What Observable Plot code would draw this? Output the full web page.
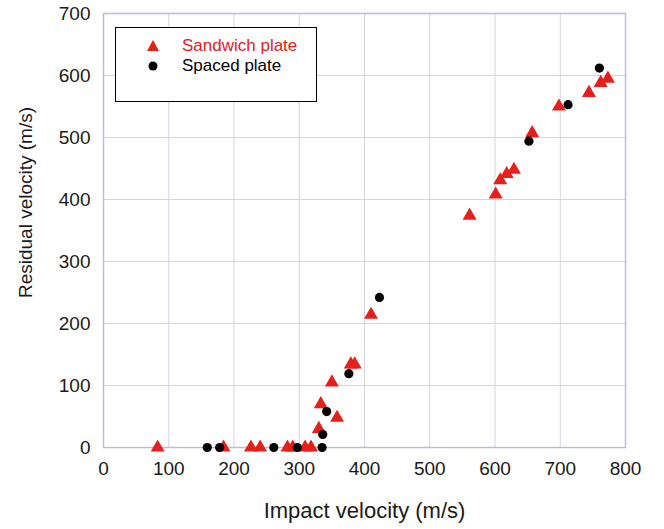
<!DOCTYPE html>
<html>
<head>
<meta charset="utf-8">
<script src="https://cdn.jsdelivr.net/npm/d3@7"></script>
<script src="https://cdn.jsdelivr.net/npm/@observablehq/plot@0.6"></script>
<style>
  html, body { margin: 0; padding: 0; background: #fff; }
  #wrap { position: relative; width: 664px; height: 529px; font-family: "Liberation Sans", Arial, sans-serif; }
  #legend { position: absolute; left: 115px; top: 27px; width: 202px; height: 75px; border: 1.5px solid #000; background: #fff; box-sizing: border-box; }
  .li { position: absolute; left: 0; font-size: 17px; line-height: 20px; white-space: nowrap; }
  .li svg { position: absolute; left: 30px; top: 3px; }
  .li span { position: absolute; left: 66px; top: 0; }
</style>
</head>
<body>
<div id="wrap"></div>
<script>
// Sandwich plate (red triangles)
const sandwichImpact   = [83, 184, 226, 240, 282, 290, 309, 318, 330, 333, 350, 358, 379, 385, 410, 561, 601, 608, 618, 629, 657, 698, 744, 762, 773];
const sandwichResidual = [0, 0, 0, 0, 0, 0, 0, 0, 30, 70, 105, 48, 134, 134, 214, 374, 408, 431, 441, 448, 507, 550, 572, 588, 595];
// Spaced plate (black circles)
const spacedImpact   = [159, 178, 261, 297, 335, 336, 342, 376, 423, 652, 712, 760];
const spacedResidual = [0, 0, 0, 0, 0, 21, 58, 119, 242, 494, 553, 612];

const xTicks = [0, 100, 200, 300, 400, 500, 600, 700, 800];
const yTicks = [0, 100, 200, 300, 400, 500, 600, 700];
const seriesNames = ["Sandwich plate", "Spaced plate"];

const sandwich = sandwichImpact.map((v, i) => ({v, r: sandwichResidual[i]}));
const spaced = spacedImpact.map((v, i) => ({v, r: spacedResidual[i]}));

const gridColor = "#d4d4e4";
const red = "#e3201b";

const chart = Plot.plot({
  width: 664,
  height: 529,
  marginTop: 13,
  marginBottom: 82,
  marginLeft: 103,
  marginRight: 39,
  style: {fontFamily: "Liberation Sans, Arial, sans-serif", background: "transparent"},
  x: {domain: [0, 800]},
  y: {domain: [0, 700]},
  marks: [
    Plot.gridX(xTicks, {stroke: gridColor, strokeOpacity: 1, strokeWidth: 1}),
    Plot.gridY(yTicks, {stroke: gridColor, strokeOpacity: 1, strokeWidth: 1}),
    Plot.frame({stroke: "#bcbcd4", strokeWidth: 1.5}),
    Plot.axisX(xTicks, {tickSize: 0, tickPadding: 14, fontSize: 19, fill: "#1a1a1a",
      label: "Impact velocity (m/s)", labelAnchor: "center", labelArrow: "none", labelOffset: 70}),
    Plot.axisY(yTicks, {tickSize: 0, tickPadding: 13, fontSize: 19, fill: "#1a1a1a",
      label: "Residual velocity (m/s)", labelAnchor: "center", labelArrow: "none", labelOffset: 85}),
    Plot.dot(sandwich, {x: "v", y: "r", symbol: "triangle", r: 5.2, fill: red, stroke: "none"}),
    Plot.dot(spaced, {x: "v", y: "r", symbol: "circle", r: 4.6, fill: "#000", stroke: "none"})
  ]
});
chart.querySelectorAll('g[aria-label="x-axis label"] text').forEach(t => { t.style.fontSize = "22px"; t.setAttribute("fill", "#1a1a1a"); });
chart.querySelectorAll('g[aria-label="y-axis label"] text').forEach(t => {
  t.style.fontSize = "19px"; t.setAttribute("fill", "#1a1a1a");
  const g = t.parentNode;
  const prev = g.getAttribute("transform") || "";
  g.setAttribute("transform", prev + " translate(0,-28)");
});
const wrap = document.getElementById("wrap");
wrap.appendChild(chart);

const legend = document.createElement("div");
legend.id = "legend";
legend.innerHTML = `
  <div class="li" style="top:8px;color:${red}"><svg width="14" height="14"><path d="M7,1 L13,12 L1,12 Z" fill="${red}"/></svg><span>${seriesNames[0]}</span></div>
  <div class="li" style="top:28px;color:#000"><svg width="14" height="14"><circle cx="7" cy="7" r="4.5" fill="#000"/></svg><span>${seriesNames[1]}</span></div>`;
wrap.appendChild(legend);
</script>
</body>
</html>
